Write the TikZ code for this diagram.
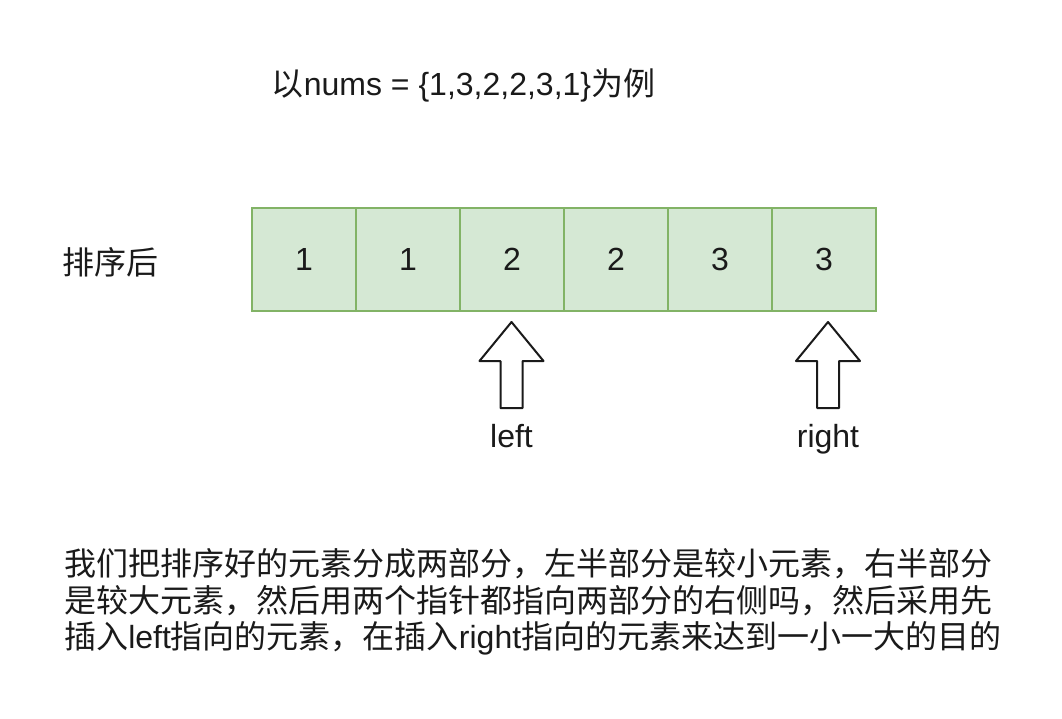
\documentclass[tikz,border=0pt]{standalone}
\usepackage{fontspec}
\setmainfont{Liberation Sans}
\newfontfamily\cjk{Noto Sans CJK SC}
\newcommand{\zh}[1]{{\cjk #1}}
\definecolor{cellfill}{HTML}{D5E8D4}
\definecolor{celldraw}{HTML}{82B366}
\definecolor{ink}{HTML}{1A1A1A}
\begin{document}
\begin{tikzpicture}[x=0.75pt,y=-0.75pt,
  cell/.style={draw=celldraw, fill=cellfill, line width=1.5pt, minimum width=78pt, minimum height=77.25pt, inner sep=0pt, font=\fontsize{24}{28}\selectfont, text=ink},
  lbl/.style={font=\fontsize{24}{28}\selectfont, inner sep=0pt, text=ink},
  ptr/.style={draw=ink, fill=white, line width=1.5pt, line join=round}]
\useasboundingbox (0,0) rectangle (1062,718);
% title
\node[lbl, anchor=base] (title) at (463.5,95) {\zh{以}nums = \{1,3,2,2,3,1\}\zh{为例}};
% row label
\node[lbl] (sorted) at (110,262) {\zh{排序后}};
% cells
\node[cell] (c1) at (304,259.5) {1};
\node[cell] (c2) at (408,259.5) {1};
\node[cell] (c3) at (512,259.5) {2};
\node[cell] (c4) at (616,259.5) {2};
\node[cell] (c5) at (720,259.5) {3};
\node[cell] (c6) at (824,259.5) {3};
% pointer arrows
\coordinate (lt) at (511.5,322);
\coordinate (rt) at (828,322);
\draw[ptr] (lt) -- ++(32,39) -- ++(-21,0) -- ++(0,47) -- ++(-22,0) -- ++(0,-47) -- ++(-21,0) -- cycle;
\draw[ptr] (rt) -- ++(32,39) -- ++(-21,0) -- ++(0,47) -- ++(-22,0) -- ++(0,-47) -- ++(-21,0) -- cycle;
\node[lbl, anchor=base] (left) at (511.5,447) {left};
\node[lbl, anchor=base] (right) at (828,447) {right};
% description
\node[lbl, anchor=base west] (l1) at (64,575) {\zh{我们把排序好的元素分成两部分，左半部分是较小元素，右半部分}};
\node[lbl, anchor=base west] (l2) at (64,612) {\zh{是较大元素，然后用两个指针都指向两部分的右侧吗，然后采用先}};
\node[lbl, anchor=base west] (l3) at (64,648) {\zh{插入}left\zh{指向的元素，在插入}right\zh{指向的元素来达到一小一大的目的}};
\end{tikzpicture}
\end{document}
